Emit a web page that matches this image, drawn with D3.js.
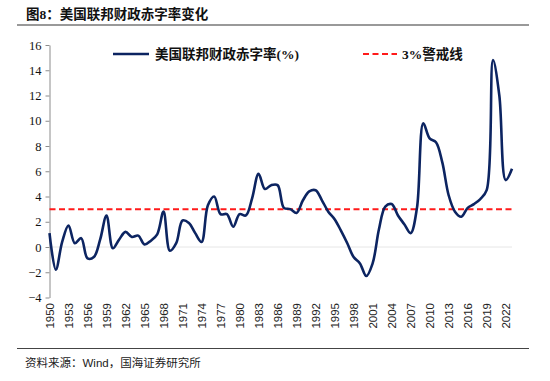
<html lang="zh">
	<head>
		<meta charset="utf-8">
		<title>美国联邦财政赤字率变化</title>
		<script type="text/javascript" src="https://cdn.jsdelivr.net/npm/d3@7"></script>
		<style type="text/css">
		body{margin:0;background:#fff;}
		.serif{font-family:"Liberation Serif","Noto Sans CJK SC",serif;}
		.sans{font-family:"Liberation Sans","Noto Sans CJK SC",sans-serif;}
		</style>
	</head>
	<body>
		<script type="text/javascript">

			//Width and height
			var w = 550;
			var h = 381;

			//Years 1950-2023 and deficit as % of GDP
			var years = d3.range(1950, 2024);
			var deficit = [ 1.1, -1.8, 0.4, 1.7, 0.3, 0.7, -0.9, -0.8, 0.6, 2.5,
			                -0.1, 0.6, 1.2, 0.8, 0.9, 0.2, 0.5, 1.0, 2.8, -0.3,
			                0.3, 2.1, 1.9, 1.1, 0.4, 3.3, 4.0, 2.6, 2.6, 1.6,
			                2.6, 2.5, 3.9, 5.8, 4.6, 4.9, 4.9, 3.1, 3.0, 2.7,
			                3.7, 4.4, 4.5, 3.7, 2.8, 2.2, 1.3, 0.3, -0.8, -1.3,
			                -2.3, -1.3, 1.4, 3.2, 3.4, 2.5, 1.8, 1.1, 3.1, 9.8,
			                8.6, 8.3, 6.7, 4.1, 2.8, 2.4, 3.1, 3.4, 3.8, 4.5,
			                14.8, 12.0, 5.3, 6.2 ];
			var warning = 3;
			var xTicks = [ 1950, 1953, 1956, 1959, 1962, 1965, 1968, 1971, 1974, 1977, 1980, 1983, 1986,
			               1989, 1992, 1995, 1998, 2001, 2004, 2007, 2010, 2013, 2016, 2019, 2022 ];
			var yTicks = [ -4, -2, 0, 2, 4, 6, 8, 10, 12, 14, 16 ];

			var xScale = d3.scalePoint()
							.domain(years)
							.range([49.5, 512]);

			var yScale = d3.scaleLinear()
							.domain([-4, 16])
							.range([297.5, 45]);

			//Create SVG element
			var svg = d3.select("body")
						.append("svg")
						.attr("width", w)
						.attr("height", h);

			//Title and rules
			svg.append("text")
			   .attr("class", "serif")
			   .attr("x", 26)
			   .attr("y", 19)
			   .attr("font-size", "13.5px")
			   .attr("font-weight", "bold")
			   .attr("fill", "#111")
			   .text("图8：美国联邦财政赤字率变化");

			svg.append("line")
			   .attr("x1", 17).attr("x2", 529)
			   .attr("y1", 25).attr("y2", 25)
			   .attr("stroke", "#777")
			   .attr("stroke-width", 1.6);

			svg.append("line")
			   .attr("x1", 17).attr("x2", 529)
			   .attr("y1", 348.5).attr("y2", 348.5)
			   .attr("stroke", "#444")
			   .attr("stroke-width", 1);

			svg.append("text")
			   .attr("class", "sans")
			   .attr("x", 25)
			   .attr("y", 367)
			   .attr("font-size", "11.5px")
			   .attr("fill", "#222")
			   .text("资料来源：Wind，国海证券研究所");

			//Zero line
			svg.append("line")
			   .attr("x1", xScale(1950)).attr("x2", xScale(2023))
			   .attr("y1", yScale(0)).attr("y2", yScale(0))
			   .attr("stroke", "#e6e6e6")
			   .attr("stroke-width", 1);

			//Y axis
			var yAxis = d3.axisLeft()
							.scale(yScale)
							.tickValues(yTicks)
							.tickSize(4)
							.tickSizeOuter(0)
							.tickPadding(4);

			var gy = svg.append("g")
				.attr("transform", "translate(49.5,0)")
				.call(yAxis);
			gy.select(".domain").attr("stroke", "#8c8c8c");
			gy.selectAll(".tick line").attr("stroke", "#8c8c8c");
			gy.selectAll(".tick text")
			  .attr("class", "serif")
			  .attr("font-size", "12.5px")
			  .attr("fill", "#111");

			//X axis labels (rotated)
			var xAxis = d3.axisBottom()
							.scale(xScale)
							.tickValues(xTicks)
							.tickSize(0)
							.tickPadding(0);

			var gx = svg.append("g")
				.attr("transform", "translate(0,303)")
				.call(xAxis);
			gx.select(".domain").remove();
			gx.selectAll(".tick text")
			  .attr("class", "sans")
			  .attr("font-size", "11.5px")
			  .attr("fill", "#222")
			  .attr("text-anchor", "end")
			  .attr("dy", "0.35em")
			  .attr("y", 0)
			  .attr("transform", "rotate(-90)");

			//3% warning line
			svg.append("line")
			   .attr("x1", xScale(1950)).attr("x2", xScale(2023))
			   .attr("y1", yScale(warning)).attr("y2", yScale(warning))
			   .attr("stroke", "#ff1a1a")
			   .attr("stroke-width", 2)
			   .attr("stroke-dasharray", "6,3.5");

			//Deficit line
			var line = d3.line()
						.x(function(d, i) { return xScale(years[i]); })
						.y(function(d) { return yScale(d); })
						.curve(d3.curveCatmullRom.alpha(0.5));

			svg.append("path")
			   .datum(deficit)
			   .attr("d", line)
			   .attr("fill", "none")
			   .attr("stroke", "#0c2461")
			   .attr("stroke-width", 2.6)
			   .attr("stroke-linejoin", "round");

			//Legend
			svg.append("line")
			   .attr("x1", 113).attr("x2", 149)
			   .attr("y1", 54).attr("y2", 54)
			   .attr("stroke", "#0c2461")
			   .attr("stroke-width", 2.6);

			svg.append("text")
			   .attr("class", "serif")
			   .attr("x", 155)
			   .attr("y", 59)
			   .attr("font-size", "13.5px")
			   .attr("font-weight", "bold")
			   .attr("fill", "#111")
			   .text("美国联邦财政赤字率(%)");

			svg.append("line")
			   .attr("x1", 363).attr("x2", 397)
			   .attr("y1", 54).attr("y2", 54)
			   .attr("stroke", "#ff1a1a")
			   .attr("stroke-width", 2)
			   .attr("stroke-dasharray", "6,3.5");

			svg.append("text")
			   .attr("class", "serif")
			   .attr("x", 402)
			   .attr("y", 59)
			   .attr("font-size", "13.5px")
			   .attr("font-weight", "bold")
			   .attr("fill", "#111")
			   .text("3%警戒线");

		</script>
	</body>
</html>
